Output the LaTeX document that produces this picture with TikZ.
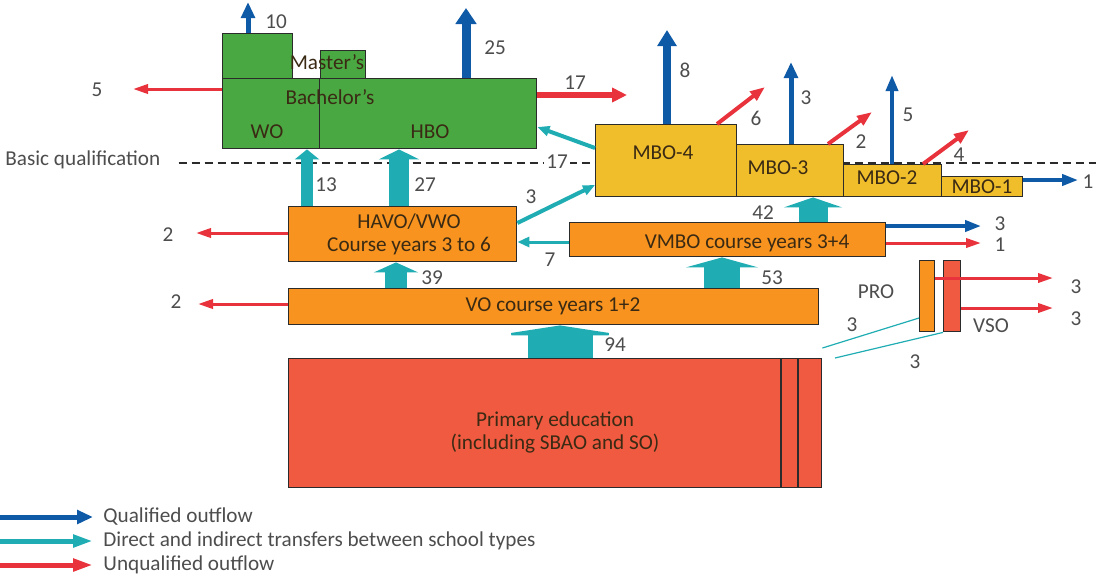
\documentclass[tikz,border=0pt]{standalone}
\usepackage{fontspec}
\setmainfont{Carlito}
\usepackage{xcolor}
\definecolor{hogreen}{HTML}{4AA842}
\definecolor{mboyellow}{HTML}{F1BE2B}
\definecolor{voorange}{HTML}{F7931E}
\definecolor{primred}{HTML}{EF5A40}
\definecolor{qblue}{HTML}{0E5AA7}
\definecolor{tteal}{HTML}{1FADB3}
\definecolor{ured}{HTML}{E8323C}
\definecolor{boxline}{HTML}{2B2B2B}
\definecolor{labeltext}{HTML}{3A2A14}
\definecolor{numtext}{HTML}{4D4D4D}
\usepackage{tikz}
\usetikzlibrary{arrows.meta}

\begin{document}
\begin{tikzpicture}[x=0.5pt, y=-0.5pt, font=\fontsize{10.6}{11.5}\selectfont,
  box/.style={draw=boxline, line width=0.7pt, inner sep=0pt, anchor=north west},
  lbl/.style={text=labeltext, align=center, inner sep=1pt},
  num/.style={text=numtext, inner sep=1pt},
  basicline/.style={draw=boxline, line width=0.6pt, dash pattern=on 4pt off 2.5pt},
  qual/.style={draw=qblue, line width=#1, -{Triangle[length=8pt, width=2.5pt 1.7]}},
  qual/.default=2pt,
  unq/.style={draw=ured, line width=#1, -{Triangle[length=7.5pt, width=2.2pt 1.6]}},
  unq/.default=1.5pt,
  trans/.style={draw=tteal, line width=#1, -{Triangle[length=5pt, width=0pt 2]}},
  link/.style={draw=tteal, line width=#1, -{Triangle[length=6pt, width=5pt]}},
  link/.default=2pt]
  \useasboundingbox (0,0) rectangle (1096,585);

  % basic qualification level
  \node[num, anchor=west] (basic) at (3,160) {Basic qualification};
  \coordinate (basicend) at (1096,163);
  \draw[basicline, shorten <=8pt] (basic.east |- basicend) -- (basicend);

  % higher education
  \node[box, fill=hogreen, minimum width=35pt, minimum height=23pt] (mastwo) at (222,33) {};
  \node[box, fill=hogreen, minimum width=22.5pt, minimum height=14.5pt] (masthbo) at (320,50) {};
  \node[box, fill=hogreen, minimum width=48.5pt, minimum height=35pt] (wo) at (222,78) {};
  \node[box, fill=hogreen, minimum width=108.5pt, minimum height=35pt] (hbo) at (319,78) {};

  % mbo levels
  \node[box, fill=mboyellow, minimum width=70.5pt, minimum height=36pt] (mbofour) at (595,124) {};
  \node[box, fill=mboyellow, minimum width=53.5pt, minimum height=26pt] (mbothree) at (736,144) {};
  \node[box, fill=mboyellow, minimum width=49pt, minimum height=16pt] (mbotwo) at (843,164) {};
  \node[box, fill=mboyellow, minimum width=40.5pt, minimum height=10pt] (mboone) at (941,176) {};

  % secondary and primary
  \node[box, fill=voorange, minimum width=114pt, minimum height=27.5pt] (havo) at (288,206) {};
  \node[box, fill=voorange, minimum width=158pt, minimum height=17pt] (vmbo) at (569,222) {};
  \node[box, fill=voorange, minimum width=265pt, minimum height=18pt] (vo) at (288,288) {};
  \node[box, fill=voorange, minimum width=7.5pt, minimum height=35.5pt] (pro) at (919,260) {};
  \node[box, fill=primred, minimum width=8.5pt, minimum height=35.5pt] (vso) at (943,260) {};
  \node[box, fill=primred, minimum width=266.5pt, minimum height=64.5pt] (primary) at (288,358) {};
  \draw[draw=boxline, line width=0.7pt] (primary.north -| 781,0) -- (primary.south -| 781,0);
  \draw[draw=boxline, line width=0.7pt] (primary.north -| 798,0) -- (primary.south -| 798,0);

  % box texts
  \node[lbl] (mastlbl) at (327,62) {Master's};
  \node[lbl] (bachlbl) at (330,97) {Bachelor's};
  \node[lbl] (wolbl) at (267,132) {WO};
  \node[lbl] (hbolbl) at (430,132) {HBO};
  \node[lbl] (mbofourlbl) at (663,153) {MBO-4};
  \node[lbl] (mbothreelbl) at (778,168) {MBO-3};
  \node[lbl] (mbotwolbl) at (887,178) {MBO-2};
  \node[lbl] (mboonelbl) at (982,187) {MBO-1};
  \node[lbl] (havolbl) at (409,234) {HAVO/VWO\\Course years 3 to 6};
  \node[lbl] (vmbolbl) at (747,243) {VMBO course years 3+4};
  \node[lbl] (volbl) at (553,306) {VO course years 1+2};
  \node[lbl] (primlbl) at (555,432) {Primary education\\(including SBAO and SO)};
  \node[num] (prolbl) at (876,292) {PRO};
  \node[num] (vsolbl) at (991,326) {VSO};

  % qualified outflow
  \coordinate (q10) at (248,2);
  \coordinate (q25) at (466,8);
  \coordinate (q8) at (667,30);
  \coordinate (q3) at (791,62);
  \coordinate (q5) at (892,75);
  \coordinate (q1) at (1078,180);
  \coordinate (qv3) at (981,226);
  \draw[qual=2.5pt] (mastwo.north -| q10) -- (q10);
  \draw[qual=4.5pt] (hbo.north -| q25) -- (q25);
  \draw[qual=4pt] (mbofour.north -| q8) -- (q8);
  \draw[qual=2.5pt] (mbothree.north -| q3) -- (q3);
  \draw[qual=2pt] (mbotwo.north -| q5) -- (q5);
  \draw[qual=1.8pt] (mboone.east |- q1) -- (q1);
  \draw[qual=1.8pt] (vmbo.east |- qv3) -- (qv3);

  % unqualified outflow
  \coordinate (u5) at (133,89);
  \coordinate (u17) at (627,95);
  \coordinate (u6) at (765,87);
  \coordinate (u2) at (872,112);
  \coordinate (u4) at (969,130);
  \coordinate (uh2) at (196,233);
  \coordinate (uv2) at (198,304);
  \coordinate (uv1) at (981,243);
  \coordinate (up3) at (1053,278);
  \coordinate (us3) at (1053,308);
  \draw[unq] (wo.west |- u5) -- (u5);
  \draw[unq=3pt] (hbo.east |- u17) -- (u17);
  \draw[unq=2pt] (mbofour.north -| 717,0) -- (u6);
  \draw[unq=2pt] (mbothree.north -| 828,0) -- (u2);
  \draw[unq=2pt] (mbotwo.north -| 923,0) -- (u4);
  \draw[unq] (havo.west |- uh2) -- (uh2);
  \draw[unq] (vo.west |- uv2) -- (uv2);
  \draw[unq] (vmbo.east |- uv1) -- (uv1);
  \draw[unq] (pro.east |- up3) -- (up3);
  \draw[unq] (vso.east |- us3) -- (us3);

  % transfers
  \draw[trans=32.5pt] (primary.north -| 560,0) -- (vo.south -| 560,0);
  \draw[trans=18pt] (vo.north -| 722,0) -- (vmbo.south -| 722,0);
  \draw[trans=11pt] (vo.north -| 396,0) -- (havo.south -| 396,0);
  \draw[trans=14.5pt] (vmbo.north -| 813,0) -- (mbothree.south -| 813,0);
  \draw[trans=10pt] (havo.north -| 399,0) -- (hbo.south -| 399,0);
  \draw[trans=6pt] (havo.north -| 307,0) -- (wo.south -| 307,0);
  \draw[link] (mbofour.west |- 0,148) -- (hbo.east |- 0,127);
  \draw[link] (havo.east |- 0,223) -- (mbofour.west |- 0,185);
  \draw[link=1.5pt] (vmbo.west |- 0,242) -- (havo.east |- 0,242);
  \draw[draw=tteal, line width=0.6pt] (primary.north east |- 0,348) -- (pro.west |- 0,318);
  \draw[draw=tteal, line width=0.6pt] (primary.north -| 835,0) -- (vso.south west);

  % numbers
  \node[num] (n10) at (276,22) {10};
  \node[num] (n25) at (495,48) {25};
  \node[num] (n8) at (685,70) {8};
  \node[num] (n3a) at (806,98) {3};
  \node[num] (n5a) at (908,115) {5};
  \node[num] (n1a) at (1088,182) {1};
  \node[num] (n6) at (756,118) {6};
  \node[num] (n2a) at (861,142) {2};
  \node[num] (n4) at (959,155) {4};
  \node[num] (n5b) at (97,90) {5};
  \node[num] (n17a) at (575,83) {17};
  \node[num, fill=white] (n17b) at (557,162) {17};
  \node[num] (n13) at (326,185) {13};
  \node[num] (n27) at (425,185) {27};
  \node[num] (n3b) at (531,197) {3};
  \node[num] (n2b) at (168,235) {2};
  \node[num] (n7) at (550,260) {7};
  \node[num] (n42) at (763,213) {42};
  \node[num] (n3c) at (1000,224) {3};
  \node[num] (n1b) at (1000,245) {1};
  \node[num] (n39) at (432,278) {39};
  \node[num] (n53) at (772,278) {53};
  \node[num] (n2c) at (176,302) {2};
  \node[num] (n3d) at (1076,287) {3};
  \node[num] (n3e) at (1076,319) {3};
  \node[num] (n3f) at (852,325) {3};
  \node[num] (n3g) at (915,362) {3};
  \node[num] (n94) at (615,345) {94};

  % legend
  \coordinate (lgq) at (0,517);
  \coordinate (lgt) at (0,541);
  \coordinate (lgu) at (0,565);
  \node[num, anchor=west] (lgqtxt) at (101,517) {Qualified outflow};
  \node[num, anchor=west] (lgttxt) at (101,541) {Direct and indirect transfers between school types};
  \node[num, anchor=west] (lgutxt) at (101,565) {Unqualified outflow};
  \draw[qual=2.5pt, shorten >=4pt] (lgq) -- (lgqtxt.west);
  \draw[trans=2.5pt, -{Triangle[length=10pt, width=6pt]}, shorten >=4pt] (lgt) -- (lgttxt.west);
  \draw[unq=2.5pt, -{Triangle[length=10pt, width=6pt]}, shorten >=4pt] (lgu) -- (lgutxt.west);
\end{tikzpicture}
\end{document}
